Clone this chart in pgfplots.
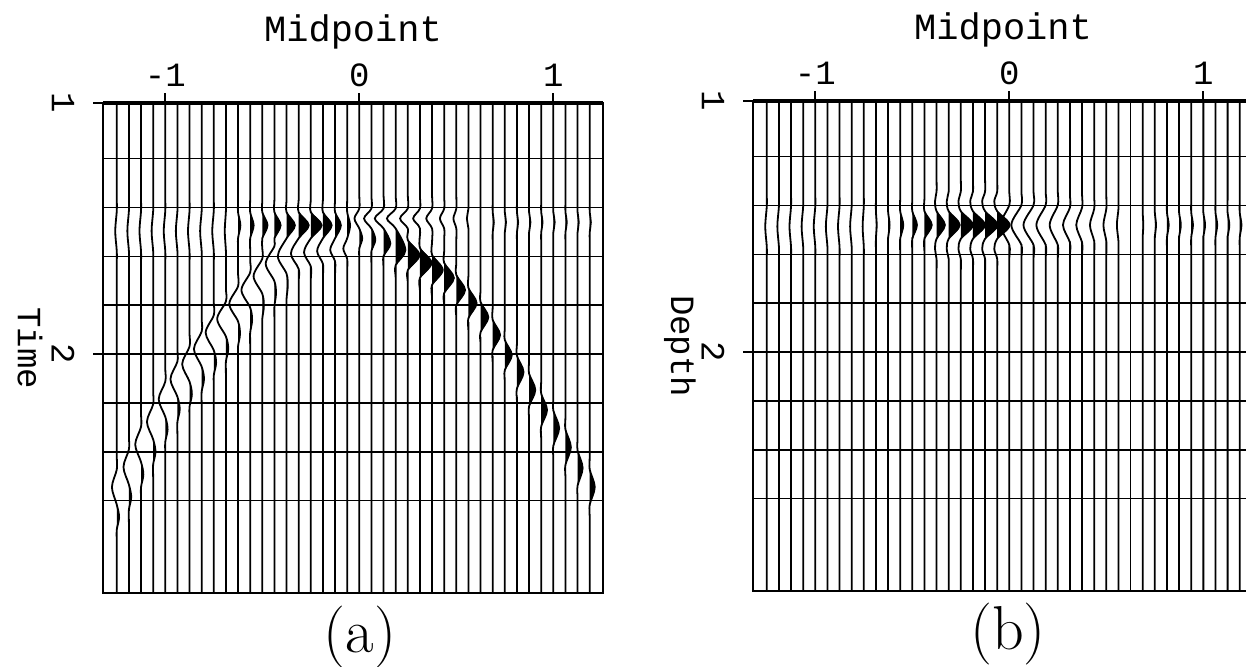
\documentclass[border=0pt]{standalone}
\usepackage{pgfplots}
\pgfplotsset{compat=1.18}
\usepackage{pgfplotstable}
\usepackage{fontspec}
\newfontfamily\cour{Liberation Mono}

% ---------- panel (a): wiggle traces (x0 = trace position, t = time, a = deflection)
\pgfplotstableread{
x0 t a
-1.25 0.95 0
-1.25 1.33 0
-1.25 1.38 0
-1.25 1.43 0
-1.25 1.51 -0.008
-1.25 1.59 0
-1.25 1.64 0
-1.25 1.69 0
-1.25 2.36 0
-1.25 2.41 0
-1.25 2.46 0
-1.25 2.53 -0.025
-1.25 2.60 0
-1.25 2.65 0.012
-1.25 2.70 0
-1.25 2.75 0
-1.25 2.80 0
-1.25 3.0 0
-1.1875 0.95 0
-1.1875 1.33 0
-1.1875 1.38 0
-1.1875 1.43 0
-1.1875 1.51 -0.008
-1.1875 1.59 0
-1.1875 1.64 0
-1.1875 1.69 0
-1.1875 2.28 0
-1.1875 2.33 0
-1.1875 2.38 0
-1.1875 2.45 -0.028
-1.1875 2.52 0
-1.1875 2.57 0.012
-1.1875 2.62 0
-1.1875 2.67 0
-1.1875 2.72 0
-1.1875 3.0 0
-1.125 0.95 0
-1.125 1.33 0
-1.125 1.38 0
-1.125 1.43 0
-1.125 1.51 -0.008
-1.125 1.59 0
-1.125 1.64 0
-1.125 1.69 0
-1.125 2.19 0
-1.125 2.24 0
-1.125 2.29 0
-1.125 2.36 -0.030
-1.125 2.43 0
-1.125 2.48 0.012
-1.125 2.53 0
-1.125 2.58 0
-1.125 2.63 0
-1.125 3.0 0
-1.0625 0.95 0
-1.0625 1.33 0
-1.0625 1.38 0
-1.0625 1.43 0
-1.0625 1.51 -0.008
-1.0625 1.59 0
-1.0625 1.64 0
-1.0625 1.69 0
-1.0625 2.10 0
-1.0625 2.15 0
-1.0625 2.20 0
-1.0625 2.27 -0.032
-1.0625 2.34 0
-1.0625 2.39 0.012
-1.0625 2.44 0
-1.0625 2.49 0
-1.0625 2.54 0
-1.0625 3.0 0
-1.0 0.95 0
-1.0 1.33 0
-1.0 1.38 0
-1.0 1.43 0
-1.0 1.51 -0.008
-1.0 1.59 0
-1.0 1.64 0
-1.0 1.69 0
-1.0 2.01 0
-1.0 2.06 0
-1.0 2.11 0
-1.0 2.18 -0.034
-1.0 2.25 0
-1.0 2.30 0.012
-1.0 2.35 0
-1.0 2.40 0
-1.0 2.45 0
-1.0 3.0 0
-0.9375 0.95 0
-0.9375 1.33 0
-0.9375 1.38 0
-0.9375 1.43 0
-0.9375 1.51 -0.008
-0.9375 1.59 0
-0.9375 1.64 0
-0.9375 1.69 0
-0.9375 1.93 0
-0.9375 1.98 0
-0.9375 2.03 0
-0.9375 2.10 -0.036
-0.9375 2.17 0
-0.9375 2.22 0.012
-0.9375 2.27 0
-0.9375 2.32 0
-0.9375 2.37 0
-0.9375 3.0 0
-0.875 0.95 0
-0.875 1.33 0
-0.875 1.38 0
-0.875 1.43 0
-0.875 1.51 -0.008
-0.875 1.59 0
-0.875 1.64 0
-0.875 1.69 0
-0.875 1.87 0
-0.875 1.92 0
-0.875 1.97 0
-0.875 2.04 -0.038
-0.875 2.11 0
-0.875 2.16 0.012
-0.875 2.21 0
-0.875 2.26 0
-0.875 2.31 0
-0.875 3.0 0
-0.8125 0.95 0
-0.8125 1.33 0
-0.8125 1.38 0
-0.8125 1.43 0
-0.8125 1.51 -0.008
-0.8125 1.59 0
-0.8125 1.64 0
-0.8125 1.69 0
-0.8125 1.81 0
-0.8125 1.86 0
-0.8125 1.91 0
-0.8125 1.98 -0.040
-0.8125 2.05 0
-0.8125 2.10 0.012
-0.8125 2.15 0
-0.8125 2.20 0
-0.8125 2.25 0
-0.8125 3.0 0
-0.75 0.95 0
-0.75 1.33 0
-0.75 1.38 0
-0.75 1.43 0
-0.75 1.51 -0.008
-0.75 1.59 0
-0.75 1.64 0
-0.75 1.69 0
-0.75 1.745 0
-0.75 1.795 0
-0.75 1.845 0
-0.75 1.915 -0.042
-0.75 1.985 0
-0.75 2.035 0.012
-0.75 2.085 0
-0.75 2.135 0
-0.75 2.185 0
-0.75 3.0 0
-0.6875 0.95 0
-0.6875 1.33 0
-0.6875 1.38 0
-0.6875 1.43 0
-0.6875 1.51 -0.006
-0.6875 1.59 0
-0.6875 1.64 0
-0.6875 1.69 0
-0.6875 1.74 0
-0.6875 1.79 0
-0.6875 1.86 -0.045
-0.6875 1.93 0
-0.6875 1.98 0.012
-0.6875 2.03 0
-0.6875 2.08 0
-0.6875 2.13 0
-0.6875 3.0 0
-0.625 0.95 0
-0.625 1.335 0
-0.625 1.385 0
-0.625 1.435 0
-0.625 1.487 0.012
-0.625 1.539 0
-0.625 1.585 0
-0.625 1.635 0
-0.625 1.68 0
-0.625 1.73 0
-0.625 1.80 -0.045
-0.625 1.87 0
-0.625 1.92 0.010
-0.625 1.97 0
-0.625 2.02 0
-0.625 2.07 0
-0.625 3.0 0
-0.5625 0.95 0
-0.5625 1.335 0
-0.5625 1.385 0
-0.5625 1.435 0
-0.5625 1.487 0.018
-0.5625 1.539 0
-0.5625 1.583 0
-0.5625 1.627 0
-0.5625 1.675 0
-0.5625 1.745 -0.045
-0.5625 1.815 0
-0.5625 1.865 0.010
-0.5625 1.915 0
-0.5625 1.965 0
-0.5625 2.015 0
-0.5625 3.0 0
-0.5 0.95 0
-0.5 1.335 0
-0.5 1.385 0
-0.5 1.435 0
-0.5 1.487 0.027
-0.5 1.539 0
-0.5 1.58 0
-0.5 1.62 0
-0.5 1.69 -0.045
-0.5 1.76 0
-0.5 1.81 0.008
-0.5 1.86 0
-0.5 1.91 0
-0.5 1.96 0
-0.5 3.0 0
-0.4375 0.95 0
-0.4375 1.335 0
-0.4375 1.385 0
-0.4375 1.435 0
-0.4375 1.487 0.032
-0.4375 1.539 0
-0.4375 1.57 0
-0.4375 1.64 -0.045
-0.4375 1.71 0
-0.4375 1.76 0.008
-0.4375 1.81 0
-0.4375 1.86 0
-0.4375 1.91 0
-0.4375 3.0 0
-0.375 0.95 0
-0.375 1.335 0
-0.375 1.385 0
-0.375 1.435 0
-0.375 1.487 0.043
-0.375 1.539 0
-0.375 1.61 -0.045
-0.375 1.68 0
-0.375 1.73 0.006
-0.375 1.78 0
-0.375 1.83 0
-0.375 1.88 0
-0.375 3.0 0
-0.3125 0.95 0
-0.3125 1.335 0
-0.3125 1.385 0
-0.3125 1.435 0
-0.3125 1.487 0.052
-0.3125 1.539 0
-0.3125 1.60 -0.040
-0.3125 1.661 0
-0.3125 1.711 0
-0.3125 1.761 0
-0.3125 3.0 0
-0.25 0.95 0
-0.25 1.335 0
-0.25 1.385 0
-0.25 1.435 0
-0.25 1.487 0.056
-0.25 1.539 0
-0.25 1.595 -0.035
-0.25 1.651 0
-0.25 1.701 0
-0.25 1.751 0
-0.25 3.0 0
-0.1875 0.95 0
-0.1875 1.335 0
-0.1875 1.385 0
-0.1875 1.435 0
-0.1875 1.487 0.045
-0.1875 1.539 0
-0.1875 1.59 -0.030
-0.1875 1.641 0
-0.1875 1.691 0
-0.1875 1.741 0
-0.1875 3.0 0
-0.125 0.95 0
-0.125 1.335 0
-0.125 1.385 0
-0.125 1.435 0
-0.125 1.487 0.030
-0.125 1.539 0
-0.125 1.585 -0.025
-0.125 1.631 0
-0.125 1.681 0
-0.125 1.731 0
-0.125 3.0 0
-0.0625 0.95 0
-0.0625 1.335 0
-0.0625 1.385 0
-0.0625 1.435 0
-0.0625 1.487 0.015
-0.0625 1.539 0
-0.0625 1.58 -0.020
-0.0625 1.621 0
-0.0625 1.671 0
-0.0625 1.721 0
-0.0625 3.0 0
0 0.95 0
0 1.32 0
0 1.37 0
0 1.42 0
0 1.46 -0.025
0 1.50 0
0 1.54 0.015
0 1.58 0
0 1.63 0
0 1.68 0
0 3.0 0
0.0625 0.95 0
0.0625 1.32 0
0.0625 1.37 0
0.0625 1.42 0
0.0625 1.46 -0.038
0.0625 1.50 0
0.0625 1.545 0.020
0.0625 1.59 0
0.0625 1.64 0
0.0625 1.69 0
0.0625 3.0 0
0.125 0.95 0
0.125 1.32 0
0.125 1.37 0
0.125 1.42 0
0.125 1.46 -0.045
0.125 1.50 0
0.125 1.56 0.035
0.125 1.61 0
0.125 1.66 0
0.125 1.71 0
0.125 3.0 0
0.1875 0.95 0
0.1875 1.32 0
0.1875 1.37 0
0.1875 1.42 0
0.1875 1.46 -0.045
0.1875 1.50 0
0.1875 1.586 0.050
0.1875 1.646 0
0.1875 1.696 0
0.1875 1.746 0
0.1875 3.0 0
0.25 0.95 0
0.25 1.32 0
0.25 1.37 0
0.25 1.42 0
0.25 1.46 -0.040
0.25 1.50 0
0.25 1.546 0
0.25 1.606 0.060
0.25 1.666 0
0.25 1.716 0
0.25 1.766 0
0.25 3.0 0
0.3125 0.95 0
0.3125 1.32 0
0.3125 1.37 0
0.3125 1.42 0
0.3125 1.46 -0.035
0.3125 1.50 0
0.3125 1.577 0
0.3125 1.637 0.060
0.3125 1.697 0
0.3125 1.747 0
0.3125 1.797 0
0.3125 3.0 0
0.375 0.95 0
0.375 1.32 0
0.375 1.37 0
0.375 1.42 0
0.375 1.46 -0.030
0.375 1.50 0
0.375 1.553 0
0.375 1.605 0
0.375 1.665 0.055
0.375 1.725 0
0.375 1.775 0
0.375 1.825 0
0.375 3.0 0
0.4375 0.95 0
0.4375 1.32 0
0.4375 1.37 0
0.4375 1.42 0
0.4375 1.46 -0.022
0.4375 1.50 0
0.4375 1.545 0
0.4375 1.59 0
0.4375 1.637 0
0.4375 1.697 0.050
0.4375 1.757 0
0.4375 1.807 0
0.4375 1.857 0
0.4375 3.0 0
0.5 0.95 0
0.5 1.32 0
0.5 1.37 0
0.5 1.42 0
0.5 1.46 -0.015
0.5 1.50 0
0.5 1.545 0
0.5 1.59 0
0.5 1.635 0
0.5 1.685 0
0.5 1.745 0.045
0.5 1.805 0
0.5 1.855 0
0.5 1.905 0
0.5 3.0 0
0.5625 0.95 0
0.5625 1.32 0
0.5625 1.37 0
0.5625 1.42 0
0.5625 1.46 -0.008
0.5625 1.50 0
0.5625 1.55 0
0.5625 1.60 0
0.5625 1.64 0
0.5625 1.687 0
0.5625 1.737 0
0.5625 1.797 0.042
0.5625 1.857 0
0.5625 1.907 0
0.5625 1.957 0
0.5625 3.0 0
0.625 0.95 0
0.625 1.693 0
0.625 1.743 0
0.625 1.793 0
0.625 1.853 0.040
0.625 1.913 0
0.625 1.963 0
0.625 2.013 0
0.625 3.0 0
0.6875 0.95 0
0.6875 1.335 0
0.6875 1.385 0
0.6875 1.435 0
0.6875 1.475 0.006
0.6875 1.515 0
0.6875 1.565 0
0.6875 1.615 0
0.6875 1.764 0
0.6875 1.814 0
0.6875 1.864 0
0.6875 1.924 0.038
0.6875 1.984 0
0.6875 2.034 0
0.6875 2.084 0
0.6875 3.0 0
0.75 0.95 0
0.75 1.335 0
0.75 1.385 0
0.75 1.435 0
0.75 1.475 0.006
0.75 1.515 0
0.75 1.565 0
0.75 1.615 0
0.75 1.844 0
0.75 1.894 0
0.75 1.944 0
0.75 2.004 0.036
0.75 2.064 0
0.75 2.114 0
0.75 2.164 0
0.75 3.0 0
0.8125 0.95 0
0.8125 1.335 0
0.8125 1.385 0
0.8125 1.435 0
0.8125 1.475 0.006
0.8125 1.515 0
0.8125 1.565 0
0.8125 1.615 0
0.8125 1.907 0
0.8125 1.957 0
0.8125 2.007 0
0.8125 2.072 0.034
0.8125 2.137 0
0.8125 2.187 0
0.8125 2.237 0
0.8125 3.0 0
0.875 0.95 0
0.875 1.335 0
0.875 1.385 0
0.875 1.435 0
0.875 1.475 0.007
0.875 1.515 0
0.875 1.565 0
0.875 1.615 0
0.875 1.978 0
0.875 2.028 0
0.875 2.078 0
0.875 2.143 0.032
0.875 2.208 0
0.875 2.258 0
0.875 2.308 0
0.875 3.0 0
0.9375 0.95 0
0.9375 1.335 0
0.9375 1.385 0
0.9375 1.435 0
0.9375 1.475 0.007
0.9375 1.515 0
0.9375 1.565 0
0.9375 1.615 0
0.9375 2.058 0
0.9375 2.108 0
0.9375 2.158 0
0.9375 2.223 0.030
0.9375 2.288 0
0.9375 2.338 0
0.9375 2.388 0
0.9375 3.0 0
1.0 0.95 0
1.0 1.335 0
1.0 1.385 0
1.0 1.435 0
1.0 1.475 0.007
1.0 1.515 0
1.0 1.565 0
1.0 1.615 0
1.0 2.125 0
1.0 2.175 0
1.0 2.225 0
1.0 2.295 0.030
1.0 2.365 0
1.0 2.415 0
1.0 2.465 0
1.0 3.0 0
1.0625 0.95 0
1.0625 1.335 0
1.0625 1.385 0
1.0625 1.435 0
1.0625 1.475 0.007
1.0625 1.515 0
1.0625 1.565 0
1.0625 1.615 0
1.0625 2.201 0
1.0625 2.251 0
1.0625 2.301 0
1.0625 2.371 0.028
1.0625 2.441 0
1.0625 2.491 0
1.0625 2.541 0
1.0625 3.0 0
1.125 0.95 0
1.125 1.335 0
1.125 1.385 0
1.125 1.435 0
1.125 1.475 0.006
1.125 1.515 0
1.125 1.565 0
1.125 1.615 0
1.125 2.284 0
1.125 2.334 0
1.125 2.384 0
1.125 2.454 0.026
1.125 2.524 0
1.125 2.574 0
1.125 2.624 0
1.125 3.0 0
1.1875 0.95 0
1.1875 1.335 0
1.1875 1.385 0
1.1875 1.435 0
1.1875 1.475 0.006
1.1875 1.515 0
1.1875 1.565 0
1.1875 1.615 0
1.1875 2.36 0
1.1875 2.41 0
1.1875 2.46 0
1.1875 2.53 0.026
1.1875 2.60 0
1.1875 2.65 0
1.1875 2.70 0
1.1875 3.0 0
}\lineA

% ---------- panel (a): filled positive lobes, first set (one lobe per trace)
\pgfplotstableread{
x0 t a
-1.25 2.60 0
-1.25 2.65 0.012
-1.25 2.70 0
-1.1875 2.52 0
-1.1875 2.57 0.012
-1.1875 2.62 0
-1.125 2.43 0
-1.125 2.48 0.012
-1.125 2.53 0
-1.0625 2.34 0
-1.0625 2.39 0.012
-1.0625 2.44 0
-1.0 2.25 0
-1.0 2.30 0.012
-1.0 2.35 0
-0.9375 2.17 0
-0.9375 2.22 0.012
-0.9375 2.27 0
-0.875 2.11 0
-0.875 2.16 0.012
-0.875 2.21 0
-0.8125 2.05 0
-0.8125 2.10 0.012
-0.8125 2.15 0
-0.75 1.985 0
-0.75 2.035 0.012
-0.75 2.085 0
-0.6875 1.93 0
-0.6875 1.98 0.012
-0.6875 2.03 0
-0.625 1.435 0
-0.625 1.487 0.012
-0.625 1.539 0
-0.5625 1.435 0
-0.5625 1.487 0.018
-0.5625 1.539 0
-0.5 1.435 0
-0.5 1.487 0.027
-0.5 1.539 0
-0.4375 1.435 0
-0.4375 1.487 0.032
-0.4375 1.539 0
-0.375 1.435 0
-0.375 1.487 0.043
-0.375 1.539 0
-0.3125 1.435 0
-0.3125 1.487 0.052
-0.3125 1.539 0
-0.25 1.435 0
-0.25 1.487 0.056
-0.25 1.539 0
-0.1875 1.435 0
-0.1875 1.487 0.045
-0.1875 1.539 0
-0.125 1.435 0
-0.125 1.487 0.030
-0.125 1.539 0
-0.0625 1.435 0
-0.0625 1.487 0.015
-0.0625 1.539 0
0 1.50 0
0 1.54 0.015
0 1.58 0
0.0625 1.50 0
0.0625 1.545 0.020
0.0625 1.59 0
0.125 1.50 0
0.125 1.56 0.035
0.125 1.61 0
0.1875 1.50 0
0.1875 1.586 0.050
0.1875 1.646 0
0.25 1.546 0
0.25 1.606 0.060
0.25 1.666 0
0.3125 1.577 0
0.3125 1.637 0.060
0.3125 1.697 0
0.375 1.605 0
0.375 1.665 0.055
0.375 1.725 0
0.4375 1.637 0
0.4375 1.697 0.050
0.4375 1.757 0
0.5 1.685 0
0.5 1.745 0.045
0.5 1.805 0
0.5625 1.737 0
0.5625 1.797 0.042
0.5625 1.857 0
0.625 1.793 0
0.625 1.853 0.040
0.625 1.913 0
0.6875 1.864 0
0.6875 1.924 0.038
0.6875 1.984 0
0.75 1.944 0
0.75 2.004 0.036
0.75 2.064 0
0.8125 2.007 0
0.8125 2.072 0.034
0.8125 2.137 0
0.875 2.078 0
0.875 2.143 0.032
0.875 2.208 0
0.9375 2.158 0
0.9375 2.223 0.030
0.9375 2.288 0
1.0 2.225 0
1.0 2.295 0.030
1.0 2.365 0
1.0625 2.301 0
1.0625 2.371 0.028
1.0625 2.441 0
1.125 2.384 0
1.125 2.454 0.026
1.125 2.524 0
1.1875 2.46 0
1.1875 2.53 0.026
1.1875 2.60 0
}\fillAa

% ---------- panel (a): filled positive lobes, second set
\pgfplotstableread{
x0 t a
-0.625 1.87 0
-0.625 1.92 0.010
-0.625 1.97 0
-0.5625 1.815 0
-0.5625 1.865 0.010
-0.5625 1.915 0
-0.5 1.76 0
-0.5 1.81 0.008
-0.5 1.86 0
-0.4375 1.71 0
-0.4375 1.76 0.008
-0.4375 1.81 0
-0.375 1.68 0
-0.375 1.73 0.006
-0.375 1.78 0
0.6875 1.435 0
0.6875 1.475 0.006
0.6875 1.515 0
0.75 1.435 0
0.75 1.475 0.006
0.75 1.515 0
0.8125 1.435 0
0.8125 1.475 0.006
0.8125 1.515 0
0.875 1.435 0
0.875 1.475 0.007
0.875 1.515 0
0.9375 1.435 0
0.9375 1.475 0.007
0.9375 1.515 0
1.0 1.435 0
1.0 1.475 0.007
1.0 1.515 0
1.0625 1.435 0
1.0625 1.475 0.007
1.0625 1.515 0
1.125 1.435 0
1.125 1.475 0.006
1.125 1.515 0
1.1875 1.435 0
1.1875 1.475 0.006
1.1875 1.515 0
}\fillAb

% ---------- panel (b): wiggle traces
\pgfplotstableread{
x0 t a
-1.25 0.95 0
-1.25 1.32 0
-1.25 1.37 0
-1.25 1.42 0
-1.25 1.50 -0.008
-1.25 1.58 0
-1.25 1.63 0
-1.25 1.68 0
-1.25 3.0 0
-1.1875 0.95 0
-1.1875 1.32 0
-1.1875 1.37 0
-1.1875 1.42 0
-1.1875 1.50 -0.008
-1.1875 1.58 0
-1.1875 1.63 0
-1.1875 1.68 0
-1.1875 3.0 0
-1.125 0.95 0
-1.125 1.32 0
-1.125 1.37 0
-1.125 1.42 0
-1.125 1.50 -0.008
-1.125 1.58 0
-1.125 1.63 0
-1.125 1.68 0
-1.125 3.0 0
-1.0625 0.95 0
-1.0625 1.32 0
-1.0625 1.37 0
-1.0625 1.42 0
-1.0625 1.50 -0.008
-1.0625 1.58 0
-1.0625 1.63 0
-1.0625 1.68 0
-1.0625 3.0 0
-1.0 0.95 0
-1.0 1.32 0
-1.0 1.37 0
-1.0 1.42 0
-1.0 1.50 -0.008
-1.0 1.58 0
-1.0 1.63 0
-1.0 1.68 0
-1.0 3.0 0
-0.9375 0.95 0
-0.9375 1.32 0
-0.9375 1.37 0
-0.9375 1.42 0
-0.9375 1.50 -0.008
-0.9375 1.58 0
-0.9375 1.63 0
-0.9375 1.68 0
-0.9375 3.0 0
-0.875 0.95 0
-0.875 1.32 0
-0.875 1.37 0
-0.875 1.42 0
-0.875 1.50 -0.008
-0.875 1.58 0
-0.875 1.63 0
-0.875 1.68 0
-0.875 3.0 0
-0.8125 0.95 0
-0.8125 1.32 0
-0.8125 1.37 0
-0.8125 1.42 0
-0.8125 1.50 -0.008
-0.8125 1.58 0
-0.8125 1.63 0
-0.8125 1.68 0
-0.8125 3.0 0
-0.75 0.95 0
-0.75 1.32 0
-0.75 1.37 0
-0.75 1.42 0
-0.75 1.50 -0.006
-0.75 1.58 0
-0.75 1.63 0
-0.75 1.68 0
-0.75 3.0 0
-0.6875 0.95 0
-0.6875 1.339 0
-0.6875 1.389 0
-0.6875 1.439 0
-0.6875 1.494 0.004
-0.6875 1.549 0
-0.6875 1.599 0
-0.6875 1.649 0
-0.6875 3.0 0
-0.625 0.95 0
-0.625 1.339 0
-0.625 1.389 0
-0.625 1.439 0
-0.625 1.494 0.008
-0.625 1.549 0
-0.625 1.599 0
-0.625 1.649 0
-0.625 3.0 0
-0.5625 0.95 0
-0.5625 1.339 0
-0.5625 1.389 0
-0.5625 1.439 0
-0.5625 1.494 0.016
-0.5625 1.549 0
-0.5625 1.599 0
-0.5625 1.649 0
-0.5625 3.0 0
-0.5 0.95 0
-0.5 1.339 0
-0.5 1.389 0
-0.5 1.439 0
-0.5 1.494 0.024
-0.5 1.549 0
-0.5 1.599 0
-0.5 1.649 0
-0.5 3.0 0
-0.4375 0.95 0
-0.4375 1.339 0
-0.4375 1.389 0
-0.4375 1.439 0
-0.4375 1.494 0.038
-0.4375 1.549 0
-0.4375 1.599 0
-0.4375 1.649 0
-0.4375 3.0 0
-0.375 0.95 0
-0.375 1.261 0
-0.375 1.311 0
-0.375 1.361 0
-0.375 1.40 -0.008
-0.375 1.439 0
-0.375 1.494 0.043
-0.375 1.549 0
-0.375 1.589 -0.008
-0.375 1.629 0
-0.375 1.679 0
-0.375 1.729 0
-0.375 3.0 0
-0.3125 0.95 0
-0.3125 1.261 0
-0.3125 1.311 0
-0.3125 1.361 0
-0.3125 1.40 -0.010
-0.3125 1.439 0
-0.3125 1.494 0.057
-0.3125 1.549 0
-0.3125 1.589 -0.010
-0.3125 1.629 0
-0.3125 1.679 0
-0.3125 1.729 0
-0.3125 3.0 0
-0.25 0.95 0
-0.25 1.261 0
-0.25 1.311 0
-0.25 1.361 0
-0.25 1.40 -0.012
-0.25 1.439 0
-0.25 1.494 0.062
-0.25 1.549 0
-0.25 1.589 -0.012
-0.25 1.629 0
-0.25 1.679 0
-0.25 1.729 0
-0.25 3.0 0
-0.1875 0.95 0
-0.1875 1.261 0
-0.1875 1.311 0
-0.1875 1.361 0
-0.1875 1.40 -0.014
-0.1875 1.439 0
-0.1875 1.494 0.062
-0.1875 1.549 0
-0.1875 1.589 -0.014
-0.1875 1.629 0
-0.1875 1.679 0
-0.1875 1.729 0
-0.1875 3.0 0
-0.125 0.95 0
-0.125 1.261 0
-0.125 1.311 0
-0.125 1.361 0
-0.125 1.40 -0.015
-0.125 1.439 0
-0.125 1.494 0.064
-0.125 1.549 0
-0.125 1.589 -0.015
-0.125 1.629 0
-0.125 1.679 0
-0.125 1.729 0
-0.125 3.0 0
-0.0625 0.95 0
-0.0625 1.261 0
-0.0625 1.311 0
-0.0625 1.361 0
-0.0625 1.40 -0.015
-0.0625 1.439 0
-0.0625 1.494 0.064
-0.0625 1.549 0
-0.0625 1.589 -0.015
-0.0625 1.629 0
-0.0625 1.679 0
-0.0625 1.729 0
-0.0625 3.0 0
0 0.95 0
0 1.314 0
0 1.364 0
0 1.414 0
0 1.494 -0.045
0 1.574 0
0 1.624 0
0 1.674 0
0 3.0 0
0.0625 0.95 0
0.0625 1.314 0
0.0625 1.364 0
0.0625 1.414 0
0.0625 1.494 -0.052
0.0625 1.574 0
0.0625 1.624 0
0.0625 1.674 0
0.0625 3.0 0
0.125 0.95 0
0.125 1.314 0
0.125 1.364 0
0.125 1.414 0
0.125 1.494 -0.052
0.125 1.574 0
0.125 1.624 0
0.125 1.674 0
0.125 3.0 0
0.1875 0.95 0
0.1875 1.314 0
0.1875 1.364 0
0.1875 1.414 0
0.1875 1.494 -0.048
0.1875 1.574 0
0.1875 1.624 0
0.1875 1.674 0
0.1875 3.0 0
0.25 0.95 0
0.25 1.314 0
0.25 1.364 0
0.25 1.414 0
0.25 1.494 -0.042
0.25 1.574 0
0.25 1.624 0
0.25 1.674 0
0.25 3.0 0
0.3125 0.95 0
0.3125 1.324 0
0.3125 1.374 0
0.3125 1.424 0
0.3125 1.494 -0.036
0.3125 1.564 0
0.3125 1.614 0
0.3125 1.664 0
0.3125 3.0 0
0.375 0.95 0
0.375 1.324 0
0.375 1.374 0
0.375 1.424 0
0.375 1.494 -0.030
0.375 1.564 0
0.375 1.614 0
0.375 1.664 0
0.375 3.0 0
0.4375 0.95 0
0.4375 1.329 0
0.4375 1.379 0
0.4375 1.429 0
0.4375 1.494 -0.022
0.4375 1.559 0
0.4375 1.609 0
0.4375 1.659 0
0.4375 3.0 0
0.5 0.95 0
0.5 1.329 0
0.5 1.379 0
0.5 1.429 0
0.5 1.494 -0.015
0.5 1.559 0
0.5 1.609 0
0.5 1.659 0
0.5 3.0 0
0.5625 0.95 0
0.5625 1.329 0
0.5625 1.379 0
0.5625 1.429 0
0.5625 1.494 -0.008
0.5625 1.559 0
0.5625 1.609 0
0.5625 1.659 0
0.5625 3.0 0
0.625 0.95 0
0.625 3.0 0
0.6875 0.95 0
0.6875 1.344 0
0.6875 1.394 0
0.6875 1.444 0
0.6875 1.494 0.003
0.6875 1.544 0
0.6875 1.594 0
0.6875 1.644 0
0.6875 3.0 0
0.75 0.95 0
0.75 1.344 0
0.75 1.394 0
0.75 1.444 0
0.75 1.494 0.006
0.75 1.544 0
0.75 1.594 0
0.75 1.644 0
0.75 3.0 0
0.8125 0.95 0
0.8125 1.344 0
0.8125 1.394 0
0.8125 1.444 0
0.8125 1.494 0.009
0.8125 1.544 0
0.8125 1.594 0
0.8125 1.644 0
0.8125 3.0 0
0.875 0.95 0
0.875 1.344 0
0.875 1.394 0
0.875 1.444 0
0.875 1.494 0.009
0.875 1.544 0
0.875 1.594 0
0.875 1.644 0
0.875 3.0 0
0.9375 0.95 0
0.9375 1.344 0
0.9375 1.394 0
0.9375 1.444 0
0.9375 1.494 0.009
0.9375 1.544 0
0.9375 1.594 0
0.9375 1.644 0
0.9375 3.0 0
1.0 0.95 0
1.0 1.344 0
1.0 1.394 0
1.0 1.444 0
1.0 1.494 0.009
1.0 1.544 0
1.0 1.594 0
1.0 1.644 0
1.0 3.0 0
1.0625 0.95 0
1.0625 1.344 0
1.0625 1.394 0
1.0625 1.444 0
1.0625 1.494 0.009
1.0625 1.544 0
1.0625 1.594 0
1.0625 1.644 0
1.0625 3.0 0
1.125 0.95 0
1.125 1.344 0
1.125 1.394 0
1.125 1.444 0
1.125 1.494 0.009
1.125 1.544 0
1.125 1.594 0
1.125 1.644 0
1.125 3.0 0
1.1875 0.95 0
1.1875 1.344 0
1.1875 1.394 0
1.1875 1.444 0
1.1875 1.494 0.009
1.1875 1.544 0
1.1875 1.594 0
1.1875 1.644 0
1.1875 3.0 0
}\lineB

% ---------- panel (b): filled positive lobes
\pgfplotstableread{
x0 t a
-0.6875 1.439 0
-0.6875 1.494 0.004
-0.6875 1.549 0
-0.625 1.439 0
-0.625 1.494 0.008
-0.625 1.549 0
-0.5625 1.439 0
-0.5625 1.494 0.016
-0.5625 1.549 0
-0.5 1.439 0
-0.5 1.494 0.024
-0.5 1.549 0
-0.4375 1.439 0
-0.4375 1.494 0.038
-0.4375 1.549 0
-0.375 1.439 0
-0.375 1.494 0.043
-0.375 1.549 0
-0.3125 1.439 0
-0.3125 1.494 0.057
-0.3125 1.549 0
-0.25 1.439 0
-0.25 1.494 0.062
-0.25 1.549 0
-0.1875 1.439 0
-0.1875 1.494 0.062
-0.1875 1.549 0
-0.125 1.439 0
-0.125 1.494 0.064
-0.125 1.549 0
-0.0625 1.439 0
-0.0625 1.494 0.064
-0.0625 1.549 0
0.6875 1.444 0
0.6875 1.494 0.003
0.6875 1.544 0
0.75 1.444 0
0.75 1.494 0.006
0.75 1.544 0
0.8125 1.444 0
0.8125 1.494 0.009
0.8125 1.544 0
0.875 1.444 0
0.875 1.494 0.009
0.875 1.544 0
0.9375 1.444 0
0.9375 1.494 0.009
0.9375 1.544 0
1.0 1.444 0
1.0 1.494 0.009
1.0 1.544 0
1.0625 1.444 0
1.0625 1.494 0.009
1.0625 1.544 0
1.125 1.444 0
1.125 1.494 0.009
1.125 1.544 0
1.1875 1.444 0
1.1875 1.494 0.009
1.1875 1.544 0
}\fillB

\pgfplotsset{
  seis/.style={
    scale only axis, width=250pt, height=245pt,
    xmin=-1.321, xmax=1.256, ymin=1, ymax=2.952, y dir=reverse,
    clip mode=individual, unbounded coords=discard,
    axis line style={line width=1.2pt, black},
    xtick={-1,0,1}, xticklabels={-1,0,1},
    xtick pos=upper, xticklabel pos=upper,
    ytick={1,2}, yticklabels={1,2}, ytick pos=left,
    tick align=outside, major tick length=5pt,
    tick style={line width=1pt, black},
    /pgf/number format/assume math mode=true,
    ticklabel style={font=\cour\fontsize{17}{17}\selectfont},
    xticklabel style={anchor=center, yshift=9pt},
    yticklabel style={rotate=-90, anchor=center, yshift=-15pt},
    ymajorgrids, major grid style={line width=1.1pt, black},
    extra y ticks={1.22,1.415,1.61,1.805,2.195,2.39,2.585},
    extra y tick labels={},
    extra y tick style={grid=major, major grid style={line width=0.6pt, black}, major tick length=0pt},
    every axis x label/.style={at={(axis description cs:0.5,1)}, anchor=center, yshift=35.5pt, font=\cour\fontsize{18.5}{18.5}\selectfont},
    every axis y label/.style={at={(axis description cs:0,0.5)}, rotate=-90, anchor=center, yshift=-36.5pt, font=\cour\fontsize{17}{17}\selectfont},
  },
  wig/.style={black, line width=0.9pt, smooth, tension=0.55},
  wigfill/.style={fill=black, draw=none, smooth, tension=0.55},
}

\begin{document}
\begin{tikzpicture}
\path[use as bounding box] (0,0) rectangle (623pt,-333pt);
\clip (0,0) rectangle (623pt,-333pt);

\begin{axis}[seis, name=A, at={(51.5pt,-51.5pt)}, anchor=north west,
  xlabel={Midpoint}, ylabel={Time}]
  \pgfplotsinvokeforeach{-1.25,-1.1875,-1.125,-1.0625,-1.0,-0.9375,-0.875,-0.8125,-0.75,-0.6875,-0.625,-0.5625,-0.5,-0.4375,-0.375,-0.3125,-0.25,-0.1875,-0.125,-0.0625,0,0.0625,0.125,0.1875,0.25,0.3125,0.375,0.4375,0.5,0.5625,0.625,0.6875,0.75,0.8125,0.875,0.9375,1.0,1.0625,1.125,1.1875}{
    \addplot[wigfill] table[x expr={abs(\thisrow{x0}-(#1))<0.0001 ? \thisrow{x0}+\thisrow{a} : nan}, y=t] {\fillAa};
    \addplot[wig] table[x expr={abs(\thisrow{x0}-(#1))<0.0001 ? \thisrow{x0}+\thisrow{a} : nan}, y=t] {\lineA};
  }
  \pgfplotsinvokeforeach{-0.625,-0.5625,-0.5,-0.4375,-0.375,0.6875,0.75,0.8125,0.875,0.9375,1.0,1.0625,1.125,1.1875}{
    \addplot[wigfill] table[x expr={abs(\thisrow{x0}-(#1))<0.0001 ? \thisrow{x0}+\thisrow{a} : nan}, y=t] {\fillAb};
  }
\end{axis}

\begin{axis}[seis, name=B, at={(376.5pt,-50.5pt)}, anchor=north west,
  xlabel={Midpoint}, ylabel={Depth}]
  \pgfplotsinvokeforeach{-1.25,-1.1875,-1.125,-1.0625,-1.0,-0.9375,-0.875,-0.8125,-0.75,-0.6875,-0.625,-0.5625,-0.5,-0.4375,-0.375,-0.3125,-0.25,-0.1875,-0.125,-0.0625,0,0.0625,0.125,0.1875,0.25,0.3125,0.375,0.4375,0.5,0.5625,0.625,0.6875,0.75,0.8125,0.875,0.9375,1.0,1.0625,1.125,1.1875}{
    \addplot[wig] table[x expr={abs(\thisrow{x0}-(#1))<0.0001 ? \thisrow{x0}+\thisrow{a} : nan}, y=t] {\lineB};
  }
  \pgfplotsinvokeforeach{-0.6875,-0.625,-0.5625,-0.5,-0.4375,-0.375,-0.3125,-0.25,-0.1875,-0.125,-0.0625,0.6875,0.75,0.8125,0.875,0.9375,1.0,1.0625,1.125,1.1875}{
    \addplot[wigfill] table[x expr={abs(\thisrow{x0}-(#1))<0.0001 ? \thisrow{x0}+\thisrow{a} : nan}, y=t] {\fillB};
  }
\end{axis}

\draw[line width=2pt] (A.north west) -- (A.north east);
\draw[line width=2pt] (B.north west) -- (B.north east);
\node[font=\fontsize{31}{34}\selectfont] at ([xshift=3.5pt, yshift=-22pt]A.south) {(a)};
\node[font=\fontsize{31}{34}\selectfont] at ([xshift=2.5pt, yshift=-21.5pt]B.south) {(b)};
\end{tikzpicture}
\end{document}
